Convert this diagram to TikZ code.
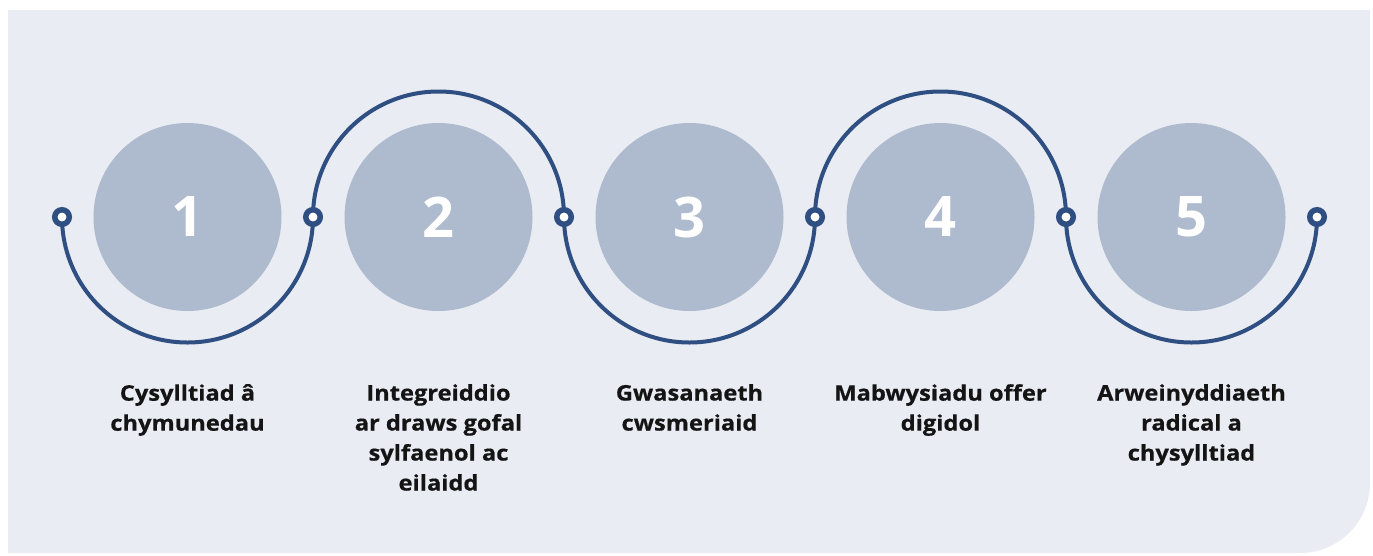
\documentclass[tikz,border=0pt]{standalone}
\usepackage{fontspec}
\setmainfont{Open Sans}
\newfontfamily\labelfont{Open Sans}[FakeStretch=1.1,BoldFeatures={FakeStretch=1.1,FakeBold=0.5}]
\definecolor{panel}{HTML}{E9ECF2}
\definecolor{disc}{HTML}{AEBACD}
\definecolor{navy}{HTML}{2F4F82}
\begin{document}
\begin{tikzpicture}[x=1pt,y=-1pt,
  stepdisc/.style={circle,fill=disc,minimum size=188pt,inner sep=0pt,text=white,font=\fontsize{56}{60}\selectfont\bfseries},
  dot/.style={circle,draw=navy,fill=white,line width=5.5pt,minimum size=14.5pt,inner sep=0pt},
  link/.style={draw=navy,line width=4pt},
  label/.style={align=center,anchor=north,inner sep=0pt,font=\labelfont\fontsize{21.5}{30}\selectfont\bfseries,text=black!92}]
\useasboundingbox (0,0) rectangle (1373,555);
\fill[white] (0,0) rectangle (1373,555);
\fill[panel] (8,10) -- (1370,10) -- (1370,483) arc[start angle=0,end angle=90,radius=70] -- (8,553) -- cycle;
% discs
\foreach \i/\x in {1/187.5,2/438.5,3/689.5,4/940.5,5/1191.5}{
  \node[stepdisc] (c\i) at (\x,217) {\i};
}
% endpoints
\foreach \i/\x in {0/62,1/313,2/564,3/815,4/1066,5/1317}{
  \coordinate (p\i) at (\x,217);
}
\draw[link] (p0) arc[start angle=180,end angle=0,radius=125.5];
\draw[link] (p1) arc[start angle=180,end angle=360,radius=125.5];
\draw[link] (p2) arc[start angle=180,end angle=0,radius=125.5];
\draw[link] (p3) arc[start angle=180,end angle=360,radius=125.5];
\draw[link] (p4) arc[start angle=180,end angle=0,radius=125.5];
\foreach \i in {0,...,5}{
  \node[dot] (d\i) at (p\i) {};
}
% labels
\node[label] (t1) at (187.5,384) {Cysylltiad â\\chymunedau};
\node[label] (t2) at (438.5,384) {Integreiddio\\ar draws gofal\\sylfaenol ac\\eilaidd};
\node[label] (t3) at (689.5,384) {Gwasanaeth\\cwsmeriaid};
\node[label] (t4) at (940.5,384) {Mabwysiadu offer\\digidol};
\node[label] (t5) at (1191.5,384) {Arweinyddiaeth\\radical a\\chysylltiad};
\end{tikzpicture}
\end{document}
